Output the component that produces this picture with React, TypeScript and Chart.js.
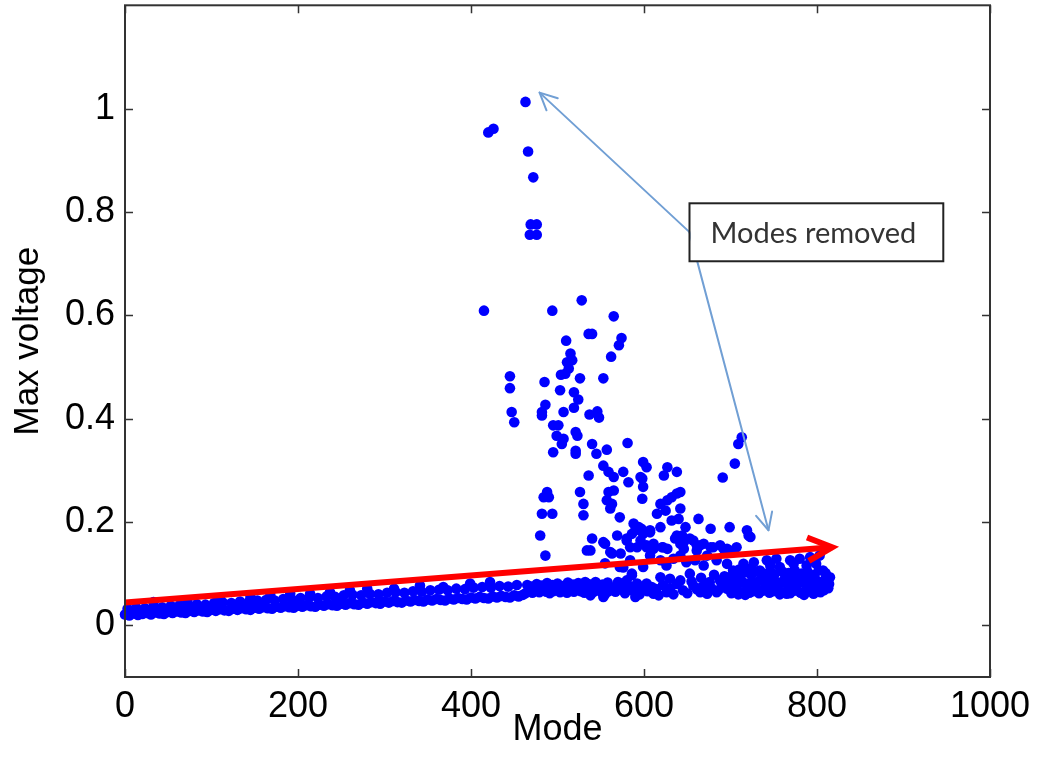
import React, { useEffect, useRef } from "react";
import { Chart, registerables } from "chart.js";

Chart.register(...registerables);

// ---------- axis ticks ----------
const xTickValues = [0, 200, 400, 600, 800, 1000];
const yTickValues = [0, 0.2, 0.4, 0.6, 0.8, 1];
const xLabel = "Mode";
const yLabel = "Max voltage";
const boxText = "Modes removed";

// ---------- data: [mode, max voltage] ----------
const lowerBand: [number, number][] = [
  [0,0.021],[5,0.019],[10,0.023],[15,0.020],[20,0.022],[25,0.024],[30,0.021],[35,0.025],[40,0.023],[45,0.022],
  [50,0.026],[55,0.024],[60,0.027],[65,0.025],[70,0.024],[75,0.028],[80,0.026],[85,0.029],[90,0.027],[95,0.026],
  [100,0.030],[105,0.028],[110,0.031],[115,0.029],[120,0.028],[125,0.032],[130,0.030],[135,0.033],[140,0.031],[145,0.030],
  [150,0.034],[155,0.032],[160,0.035],[165,0.033],[170,0.032],[175,0.036],[180,0.034],[185,0.037],[190,0.035],[195,0.034],
  [200,0.038],[205,0.036],[210,0.039],[215,0.037],[220,0.036],[225,0.040],[230,0.038],[235,0.041],[240,0.039],[245,0.038],
  [250,0.042],[255,0.040],[260,0.043],[265,0.041],[270,0.040],[275,0.044],[280,0.042],[285,0.045],[290,0.043],[295,0.042],
  [300,0.046],[305,0.044],[310,0.047],[315,0.045],[320,0.044],[325,0.048],[330,0.046],[335,0.049],[340,0.047],[345,0.046],
  [350,0.050],[355,0.048],[360,0.051],[365,0.049],[370,0.048],[375,0.052],[380,0.050],[385,0.053],[390,0.051],[395,0.050],
  [400,0.054],[405,0.052],[410,0.055],[415,0.053],[420,0.052],[425,0.056],[430,0.054],[435,0.057],[440,0.055],[445,0.054],
  [450,0.058],[455,0.056],[460,0.059],
];

const upperBand: [number, number][] = [
  [3,0.032],[13,0.034],[23,0.033],[33,0.036],[43,0.035],[53,0.038],[63,0.039],[73,0.038],[83,0.041],[93,0.040],
  [103,0.043],[113,0.044],[123,0.043],[133,0.046],[143,0.045],[153,0.048],[163,0.049],[173,0.048],[183,0.051],[193,0.050],
  [203,0.053],[213,0.054],[223,0.053],[233,0.056],[243,0.055],[253,0.058],[263,0.059],[273,0.058],[283,0.061],[293,0.060],
  [303,0.063],[313,0.064],[323,0.063],[333,0.066],[343,0.065],[353,0.068],[363,0.069],[373,0.068],[383,0.071],[393,0.070],
  [403,0.073],[413,0.074],[423,0.073],[433,0.076],[443,0.075],[453,0.078],
];

const bandOutliers: [number, number][] = [
  [33,0.045],[72,0.048],[110,0.052],[145,0.055],[168,0.058],[191,0.061],[214,0.061],[237,0.064],
  [260,0.068],[280,0.071],[311,0.071],[341,0.077],[368,0.074],[399,0.081],[422,0.084],
];

const tailBand: [number, number][] = [
  [463,0.062],[467,0.066],[471,0.063],[475,0.067],[479,0.064],[483,0.068],[487,0.065],[491,0.062],[495,0.066],[499,0.069],
  [503,0.064],[507,0.067],[511,0.063],[515,0.068],[519,0.065],[523,0.070],[527,0.066],[531,0.063],[535,0.067],[539,0.061],
  [543,0.066],[547,0.069],[551,0.064],[555,0.060],[559,0.066],
  [465,0.078],[470,0.075],[476,0.080],[482,0.077],[488,0.082],[494,0.078],[500,0.081],[506,0.076],[512,0.083],[518,0.079],
  [524,0.082],[530,0.077],[536,0.080],[544,0.084],[552,0.079],[558,0.083],
  [563,0.072],[567,0.065],[574,0.070],[578,0.062],[584,0.075],[588,0.066],[595,0.060],[598,0.072],[604,0.066],[614,0.070],
  [617,0.058],[622,0.078],[626,0.064],[634,0.060],[638,0.080],[645,0.068],[650,0.062],[655,0.085],[661,0.070],[666,0.092],
  [672,0.080],[678,0.072],[681,0.098],[686,0.068],[690,0.078],[693,0.095],[698,0.082],
  [701,0.062],[705,0.066],[709,0.060],[713,0.064],[717,0.059],[722,0.063],[726,0.066],[733,0.062],[737,0.067],[745,0.063],
  [749,0.066],[757,0.060],[761,0.064],[769,0.062],[773,0.067],[781,0.063],[785,0.059],[792,0.066],[796,0.061],[804,0.064],
  [808,0.068],[813,0.072],
  [702,0.085],[706,0.080],[712,0.088],[716,0.082],[720,0.079],[725,0.086],[729,0.081],[735,0.089],[739,0.083],[744,0.087],
  [748,0.080],[752,0.085],[758,0.082],[762,0.088],[766,0.079],[771,0.084],[775,0.090],[779,0.082],[783,0.087],[787,0.083],
  [791,0.089],[795,0.081],[800,0.086],[805,0.082],[809,0.088],[814,0.080],
  [704,0.100],[710,0.108],[718,0.103],[724,0.098],[731,0.104],[738,0.100],[746,0.105],[751,0.099],[760,0.104],[767,0.101],
  [774,0.107],[782,0.100],[789,0.104],[797,0.098],[802,0.106],[810,0.101],
];

const cloudPoints: [number, number][] = [
  [723,0.171],[553,0.161],[561,0.142],[580,0.168],[603,0.155],[611,0.148],[622,0.151],[636,0.168],[646,0.161],[653,0.168],
  [661,0.155],[669,0.158],[680,0.151],[692,0.148],[703,0.142],
  [572,0.113],[584,0.126],[586,0.097],[599,0.113],[607,0.135],[619,0.126],[626,0.116],[634,0.129],[642,0.135],[649,0.122],
  [659,0.126],[669,0.116],[673,0.135],[684,0.126],[696,0.119],
  [511,0.077],[532,0.084],[542,0.071],[551,0.074],[569,0.077],[580,0.087],[592,0.081],[609,0.074],[619,0.093],[630,0.090],
  [642,0.087],[653,0.100],[667,0.074],[676,0.084],[688,0.087],[699,0.093],[711,0.097],[723,0.110],[734,0.106],[746,0.116],
  [757,0.113],[773,0.119],[788,0.116],[799,0.119],[807,0.106],
  [538,0.058],[553,0.055],[590,0.055],[611,0.061],[630,0.071],[657,0.077],[673,0.061],[684,0.064],[696,0.071],[707,0.074],
  [719,0.068],[730,0.071],[742,0.077],[753,0.068],[765,0.061],[777,0.068],[788,0.074],[800,0.077],[811,0.081],[815,0.093],
  [703,0.106],[715,0.119],[727,0.122],[742,0.126],[753,0.129],[769,0.126],[780,0.129],[792,0.132],[803,0.135],
  [570,0.084],[576,0.081],[580,0.068],[603,0.081],[607,0.074],[611,0.064],[665,0.064],[669,0.071],
  [555,0.120],[576,0.112],[586,0.100],
];

const scatterHigh: [number, number][] = [
  [463,1.013],[420,0.954],[426,0.961],[466,0.917],[472,0.867],[469,0.776],[476,0.776],[468,0.756],[476,0.756],
  [415,0.609],[494,0.609],[528,0.629],[565,0.598],[536,0.564],[540,0.564],[574,0.556],[571,0.542],[510,0.551],
  [562,0.520],[515,0.526],[511,0.509],[517,0.513],[513,0.497],[509,0.487],[504,0.485],[526,0.478],[553,0.478],
  [445,0.482],[445,0.459],[485,0.471],[503,0.455],[519,0.451],[524,0.437],[519,0.421],[486,0.427],[482,0.413],
  [482,0.406],[507,0.413],[447,0.413],[450,0.393],[537,0.408],[546,0.414],[548,0.402],[495,0.387],[501,0.387],
  [499,0.367],[507,0.361],[521,0.374],[523,0.367],[505,0.351],[540,0.351],[557,0.340],[581,0.353],[495,0.335],
  [521,0.338],[521,0.332],[545,0.332],[553,0.309],[559,0.297],[565,0.287],[599,0.316],[603,0.306],[627,0.306],
  [623,0.290],[638,0.297],[536,0.290],[576,0.297],[596,0.287],[582,0.277],[598,0.284],[599,0.268],[691,0.286],
  [705,0.313],[709,0.351],[713,0.364],
];

const scatterMid: [number, number][] = [
  [488,0.258],[484,0.248],[490,0.248],[482,0.216],[494,0.216],[480,0.174],[486,0.135],[526,0.258],[530,0.235],
  [530,0.213],[540,0.168],[538,0.145],[555,0.158],[563,0.139],[569,0.174],[572,0.209],[559,0.258],[565,0.261],
  [557,0.242],[563,0.235],[561,0.226],[598,0.245],[619,0.235],[627,0.242],[632,0.248],[638,0.255],[642,0.258],
  [625,0.222],[615,0.216],[642,0.226],[632,0.203],[588,0.197],[594,0.190],[586,0.177],[590,0.184],[599,0.177],
  [607,0.184],[619,0.190],[663,0.206],[648,0.190],[644,0.174],[638,0.174],[677,0.187],[699,0.190],[719,0.184],
  [721,0.174],[534,0.145],[573,0.139],[580,0.164],[584,0.151],[596,0.164],[592,0.151],[611,0.158],[603,0.151],
  [621,0.151],[627,0.148],[642,0.158],[646,0.148],[657,0.164],[665,0.155],[661,0.145],[677,0.151],[688,0.155],
  [696,0.148],[704,0.145],[707,0.151],[597,0.187],[607,0.180],[640,0.206],
];

// ---------- annotations (data coordinates) ----------
const redArrowFrom: [number, number] = [0, 0.044];
const redArrowTo: [number, number] = [821, 0.151];
const blueJunction: [number, number] = [652.6, 0.761];
const blueTipUp: [number, number] = [479.3, 1.031];
const blueTipDown: [number, number] = [743.9, 0.184];
const boxTopLeft: [number, number] = [652.6, 0.8168];
const boxBottomRight: [number, number] = [946, 0.7046];

const FONT = "'Liberation Sans', Arial, sans-serif";

function drawArrow(ctx: CanvasRenderingContext2D, x0: number, y0: number, x1: number, y1: number, len: number, ang: number) {
  const a = Math.atan2(y1 - y0, x1 - x0);
  ctx.beginPath();
  ctx.moveTo(x0, y0);
  ctx.lineTo(x1, y1);
  ctx.stroke();
  ctx.beginPath();
  ctx.moveTo(x1 - len * Math.cos(a - ang), y1 - len * Math.sin(a - ang));
  ctx.lineTo(x1, y1);
  ctx.lineTo(x1 - len * Math.cos(a + ang), y1 - len * Math.sin(a + ang));
  ctx.stroke();
}

const annotationPlugin = {
  id: "annotations",
  afterDatasetsDraw(chart: any) {
    const { ctx, scales } = chart;
    const x = scales.x, y = scales.y;
    const P = (p: [number, number]) => [x.getPixelForValue(p[0]), y.getPixelForValue(p[1])];
    ctx.save();
    // red arrow
    const [rx0, ry0] = P(redArrowFrom);
    const [rx1, ry1] = P(redArrowTo);
    ctx.strokeStyle = "#ff0000";
    ctx.lineWidth = 6;
    ctx.lineCap = "butt";
    ctx.lineJoin = "miter";
    drawArrow(ctx, rx0, ry0, rx1 - 3, ry1, 27, 0.45);
    // blue arrows
    const [jx, jy] = P(blueJunction);
    const [ux, uy] = P(blueTipUp);
    const [dx, dy] = P(blueTipDown);
    ctx.strokeStyle = "#719fd4";
    ctx.lineWidth = 2;
    ctx.lineCap = "round";
    ctx.lineJoin = "round";
    drawArrow(ctx, jx, jy, ux, uy, 19, 0.45);
    drawArrow(ctx, jx, jy, dx, dy, 19, 0.45);
    // text box
    const [bx0, by0] = P(boxTopLeft);
    const [bx1, by1] = P(boxBottomRight);
    ctx.fillStyle = "#ffffff";
    ctx.fillRect(bx0 + 1, by0, bx1 - bx0 - 1, by1 - by0);
    ctx.strokeStyle = "#222222";
    ctx.lineWidth = 2;
    ctx.lineJoin = "miter";
    ctx.strokeRect(bx0, by0, bx1 - bx0, by1 - by0);
    ctx.fillStyle = "#333333";
    ctx.font = "29px Lato, 'Open Sans', sans-serif";
    ctx.textAlign = "center";
    ctx.textBaseline = "middle";
    ctx.fillText(boxText, (bx0 + bx1) / 2 - 3, (by0 + by1) / 2 + 1);
    ctx.restore();
  },
  afterDraw(chart: any) {
    const { ctx, chartArea: ca, scales } = chart;
    ctx.save();
    ctx.strokeStyle = "#333333";
    ctx.lineWidth = 2;
    ctx.strokeRect(ca.left, ca.top, ca.right - ca.left, ca.bottom - ca.top);
    ctx.lineWidth = 1.5;
    const tl = 8;
    ctx.beginPath();
    for (const v of yTickValues) {
      const py = Math.round(scales.y.getPixelForValue(v)) + 0.5;
      ctx.moveTo(ca.left, py); ctx.lineTo(ca.left + tl, py);
      ctx.moveTo(ca.right, py); ctx.lineTo(ca.right - tl, py);
    }
    for (const v of xTickValues) {
      const px = Math.round(scales.x.getPixelForValue(v)) + 0.5;
      ctx.moveTo(px, ca.bottom); ctx.lineTo(px, ca.bottom - tl);
      ctx.moveTo(px, ca.top); ctx.lineTo(px, ca.top + tl);
    }
    ctx.stroke();
    ctx.restore();
  },
};

export default function App() {
  const ref = useRef<HTMLCanvasElement | null>(null);
  useEffect(() => {
    if (!ref.current) return;
    const allPoints = [...lowerBand, ...upperBand, ...bandOutliers, ...tailBand, ...cloudPoints, ...scatterMid, ...scatterHigh];
    const chart = new Chart(ref.current, {
      type: "scatter",
      data: {
        datasets: [
          {
            data: allPoints.map(([m, v]) => ({ x: m, y: v })),
            pointRadius: 5.3,
            pointBackgroundColor: "#0000ff",
            pointBorderWidth: 0,
            pointHoverRadius: 5.3,
            showLine: false,
            clip: false as any,
          },
        ],
      },
      options: {
        responsive: false,
        animation: false,
        devicePixelRatio: 1,
        layout: { padding: { top: 5, right: 47, left: 0, bottom: 0 } },
        plugins: { legend: { display: false }, tooltip: { enabled: false } },
        scales: {
          x: {
            type: "linear",
            min: 0,
            max: 1000,
            grid: { display: false, drawTicks: false },
            border: { display: false },
            afterBuildTicks: (s: any) => { s.ticks = xTickValues.map((v) => ({ value: v })); },
            afterFit: (s: any) => { s.height = 96; s.paddingLeft = 0; s.paddingRight = 0; },
            ticks: {
              padding: 8,
              color: "#000",
              font: { family: FONT, size: 36 },
              maxRotation: 0,
              callback: (v: any) => String(v),
            },
            title: {
              display: true,
              text: xLabel,
              color: "#000",
              font: { family: FONT, size: 36 },
              padding: { top: 0, bottom: 21 },
            },
          },
          y: {
            type: "linear",
            min: -0.1,
            max: 1.2,
            grid: { display: false, drawTicks: false },
            border: { display: false },
            afterBuildTicks: (s: any) => { s.ticks = yTickValues.map((v) => ({ value: v })); },
            afterFit: (s: any) => { s.width = 125; s.paddingTop = 0; s.paddingBottom = 0; },
            ticks: {
              padding: 10,
              color: "#000",
              font: { family: FONT, size: 36 },
              callback: (v: any) => String(Math.round(Number(v) * 10) / 10),
            },
            title: {
              display: true,
              text: yLabel,
              color: "#000",
              font: { family: FONT, size: 35 },
              padding: { top: 7, bottom: 0 },
            },
          },
        },
      },
      plugins: [annotationPlugin],
    });
    return () => chart.destroy();
  }, []);
  return (
    <div style={{ position: "fixed", left: 0, top: 0, width: 1037, height: 773, background: "#fff" }}>
      <canvas ref={ref} width={1037} height={773} style={{ width: 1037, height: 773, display: "block" }} />
    </div>
  );
}
